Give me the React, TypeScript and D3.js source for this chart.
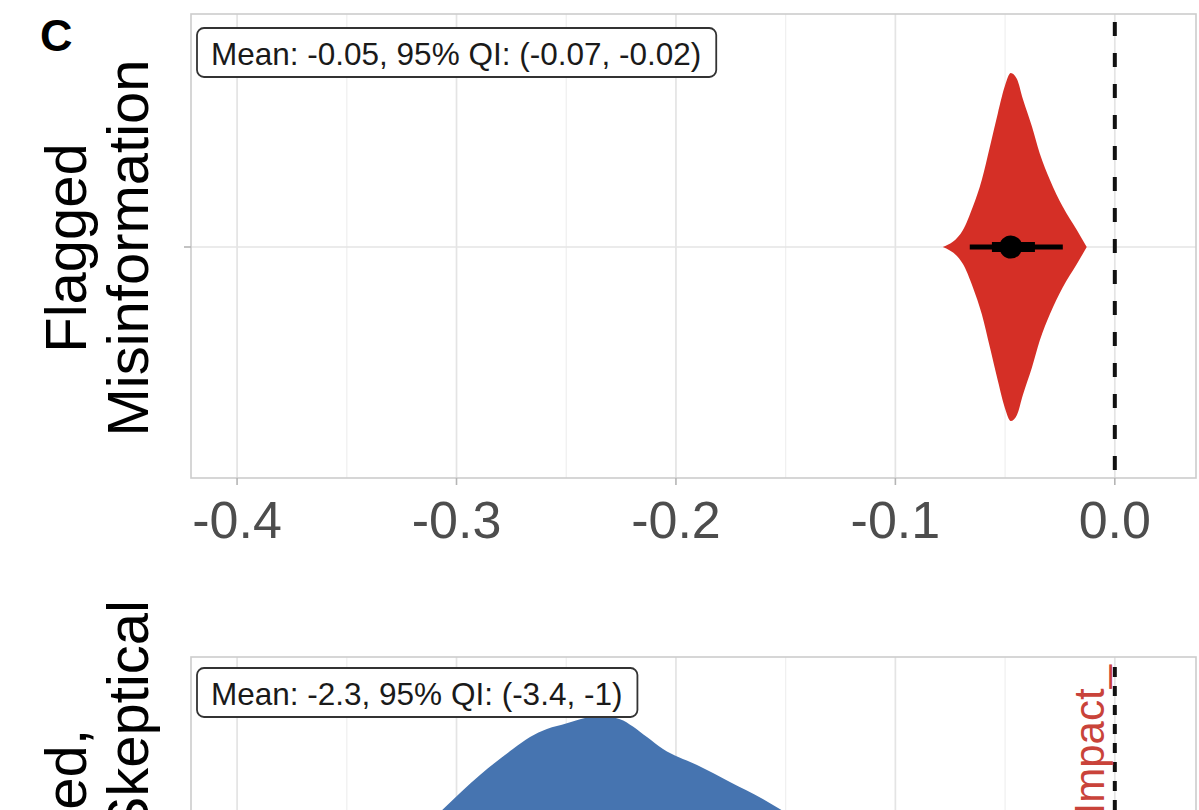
import React, { useEffect, useRef } from "react";
import * as d3 from "d3";

const W = 1199;
const H = 810;

// ---- data ----
const panelTag = "C";
const topLabelLines = ["Flagged", "Misinformation"];
const bottomLabelLines = ["Flagged,", "Skeptical"];
const topCategory = ["Flagged Misinformation"];
const bottomCategory = ["Flagged, Skeptical"];

const topMajorTicks = [-0.4, -0.3, -0.2, -0.1, 0.0];
const topTickLabels = ["-0.4", "-0.3", "-0.2", "-0.1", "0.0"];
const topMinorTicks = [-0.35, -0.25, -0.15, -0.05];
const bottomMajorTicks = [-4, -3, -2, -1, 0];
const bottomMinorTicks = [-3.5, -2.5, -1.5, -0.5];

// red posterior density (value, relative density)
const redDensityValues = [-0.0784, -0.0692, -0.0647, -0.0606, -0.0569, -0.0533, -0.0501, -0.0474, -0.0446, -0.0419, -0.0378, -0.0342, -0.0296, -0.0237, -0.0173, -0.0128];
const redDensityHeights = [0, 0.098, 0.231, 0.387, 0.578, 0.769, 0.925, 1.0, 0.965, 0.85, 0.694, 0.538, 0.387, 0.231, 0.098, 0];
const redPoint = -0.0474;
const redInterval95 = [-0.0661, -0.0237];
const redInterval66 = [-0.056, -0.0364];
const topAnnotation = "Mean: -0.05, 95% QI: (-0.07, -0.02)";

// blue posterior density (value, relative density)
const blueDensityValues = [-4.0, -3.6, -3.3, -3.075, -2.893, -2.743, -2.665, -2.588, -2.497, -2.437, -2.346, -2.255, -2.196, -2.132, -2.059, -1.904, -1.754, -1.604, -1.503, -1.2, -0.8, -0.5];
const blueDensityHeights = [0.0, 0.05, 0.17, 0.448, 0.661, 0.81, 0.879, 0.925, 0.958, 0.982, 1.0, 0.982, 0.94, 0.879, 0.81, 0.718, 0.621, 0.523, 0.448, 0.25, 0.08, 0.02];
const bottomAnnotation = "Mean: -2.3, 95% QI: (-3.4, -1)";
const nullLabel = "Impact_";

const FONT = "'Liberation Sans', Arial, Helvetica, sans-serif";
const RED = "#D52F26";
const BLUE = "#4674B0";

export default function App() {
  const ref = useRef<SVGSVGElement | null>(null);

  useEffect(() => {
    const svg = d3.select(ref.current);
    svg.selectAll("*").remove();

    const panelLeft = 191;
    const panelRight = 1196;

    const panels = [
      {
        top: 14,
        bottom: 478,
        x: d3.scaleLinear().domain([-0.421, 0.037]).range([panelLeft, panelRight]),
        major: topMajorTicks,
        minor: topMinorTicks,
        cat: topCategory,
        dv: redDensityValues,
        dh: redDensityHeights,
        color: RED,
        annotation: topAnnotation,
        labels: topLabelLines,
        dash: "14,17",
        dashStart: 22,
        boxTop: 28,
      },
      {
        top: 657,
        bottom: 1121,
        x: d3.scaleLinear().domain([-4.21, 0.37]).range([panelLeft, panelRight]),
        major: bottomMajorTicks,
        minor: bottomMinorTicks,
        cat: bottomCategory,
        dv: blueDensityValues,
        dh: blueDensityHeights,
        color: BLUE,
        annotation: bottomAnnotation,
        labels: bottomLabelLines,
        dash: "10,9",
        dashStart: 667,
        boxTop: 668,
      },
    ];

    const hScale = d3.scaleLinear().domain([0, 1]).range([0, 174]);

    panels.forEach((p, pi) => {
      const g = svg.append("g");
      const y = d3.scalePoint<string>().domain(p.cat).range([p.top, p.bottom]).padding(0.5);
      const cy = (y(p.cat[0]) as number) + 1;

      g.append("rect")
        .attr("x", panelLeft).attr("y", p.top)
        .attr("width", panelRight - panelLeft).attr("height", p.bottom - p.top)
        .attr("fill", "#fff");

      g.selectAll(".minor").data(p.minor).enter().append("line")
        .attr("x1", (d) => p.x(d)).attr("x2", (d) => p.x(d))
        .attr("y1", p.top).attr("y2", p.bottom)
        .attr("stroke", "#f0f0f0").attr("stroke-width", 1.3);
      g.selectAll(".major").data(p.major).enter().append("line")
        .attr("x1", (d) => p.x(d)).attr("x2", (d) => p.x(d))
        .attr("y1", p.top).attr("y2", p.bottom)
        .attr("stroke", "#e4e4e4").attr("stroke-width", 1.7);
      g.append("line")
        .attr("x1", panelLeft).attr("x2", panelRight)
        .attr("y1", cy).attr("y2", cy)
        .attr("stroke", "#e4e4e4").attr("stroke-width", 1.7);

      const pts = p.dv.map((v, i) => ({ v, d: p.dh[i] }));
      const area = d3.area<{ v: number; d: number }>()
        .x((d) => p.x(d.v))
        .y0((d) => cy + hScale(d.d))
        .y1((d) => cy - hScale(d.d))
        .curve(d3.curveMonotoneX);
      g.append("path").attr("d", area(pts) as string).attr("fill", p.color);

      if (pi === 0) {
        g.append("line")
          .attr("x1", p.x(redInterval95[0])).attr("x2", p.x(redInterval95[1]))
          .attr("y1", cy).attr("y2", cy)
          .attr("stroke", "#000").attr("stroke-width", 5);
        g.append("line")
          .attr("x1", p.x(redInterval66[0])).attr("x2", p.x(redInterval66[1]))
          .attr("y1", cy).attr("y2", cy)
          .attr("stroke", "#000").attr("stroke-width", 10);
        g.append("circle")
          .attr("cx", p.x(redPoint)).attr("cy", cy).attr("r", 11.5)
          .attr("fill", "#000");
      }

      g.append("rect")
        .attr("x", panelLeft).attr("y", p.top)
        .attr("width", panelRight - panelLeft).attr("height", p.bottom - p.top)
        .attr("fill", "none").attr("stroke", "#cccccc").attr("stroke-width", 1.6);

      g.append("line")
        .attr("x1", p.x(0)).attr("x2", p.x(0))
        .attr("y1", p.dashStart).attr("y2", p.bottom)
        .attr("stroke", "#111").attr("stroke-width", 4)
        .attr("stroke-dasharray", p.dash);

      g.append("line")
        .attr("x1", panelLeft - 7).attr("x2", panelLeft)
        .attr("y1", cy).attr("y2", cy)
        .attr("stroke", "#b5b5b5").attr("stroke-width", 1.6);

      if (pi === 0) {
        p.labels.forEach((line, li) => {
          g.append("text")
            .attr("transform", `translate(${86 + li * 62},${cy + 1}) rotate(-90)`)
            .attr("text-anchor", "middle")
            .attr("font-family", FONT).attr("font-size", 58)
            .attr("fill", "#000")
            .text(line);
        });
      } else {
        const ends = [729, 600];
        p.labels.forEach((line, li) => {
          g.append("text")
            .attr("transform", `translate(${86 + li * 62},${ends[li]}) rotate(-90)`)
            .attr("text-anchor", "end")
            .attr("font-family", FONT).attr("font-size", 58)
            .attr("fill", "#000")
            .text(line);
        });
        g.append("text")
          .attr("transform", `translate(${1104},${665}) rotate(-90)`)
          .attr("text-anchor", "end")
          .attr("font-family", FONT).attr("font-size", 42)
          .attr("fill", "#C9433A")
          .text(nullLabel);
      }

      const ann = g.append("g");
      const txt = ann.append("text")
        .attr("x", 211).attr("y", p.boxTop + 37)
        .attr("font-family", FONT).attr("font-size", 31.5)
        .attr("fill", "#1a1a1a")
        .text(p.annotation);
      const bb = (txt.node() as SVGTextElement).getBBox();
      ann.insert("rect", "text")
        .attr("x", 197).attr("y", p.boxTop)
        .attr("width", bb.x + bb.width + 15 - 197).attr("height", 49)
        .attr("rx", 7).attr("ry", 7)
        .attr("fill", "#fff").attr("stroke", "#333").attr("stroke-width", 1.8);
    });

    const p0 = panels[0];
    const ax = svg.append("g");
    ax.selectAll("line.t").data(topMajorTicks).enter().append("line")
      .attr("x1", (d) => p0.x(d)).attr("x2", (d) => p0.x(d))
      .attr("y1", p0.bottom).attr("y2", p0.bottom + 7)
      .attr("stroke", "#b5b5b5").attr("stroke-width", 1.6);
    ax.selectAll("text.t").data(topMajorTicks).enter().append("text")
      .attr("x", (d) => p0.x(d)).attr("y", 538)
      .attr("text-anchor", "middle")
      .attr("font-family", FONT).attr("font-size", 52)
      .attr("fill", "#4d4d4d")
      .text((d, i) => topTickLabels[i]);

    svg.append("text")
      .attr("x", 40).attr("y", 51)
      .attr("font-family", FONT).attr("font-size", 45).attr("font-weight", "bold")
      .attr("fill", "#000")
      .text(panelTag);
  }, []);

  return (
    <svg
      ref={ref}
      width={W}
      height={H}
      style={{ position: "absolute", left: 0, top: 0, background: "#fff" }}
    />
  );
}
